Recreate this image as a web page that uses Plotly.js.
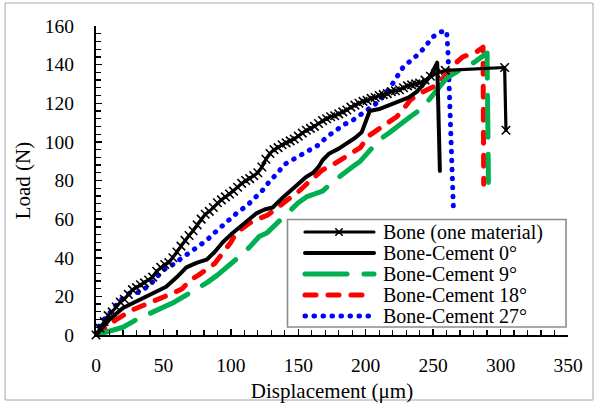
<!DOCTYPE html>
<html><head><meta charset="utf-8">
<script src="https://cdn.plot.ly/plotly-3.0.1.min.js"></script>
<style>
html,body{margin:0;padding:0;background:#fff;}
#chart{width:598px;height:403px;}
.js-line{stroke-linecap:round;stroke-linejoin:round;}
.shapelayer path{stroke-linecap:round;}
</style></head><body><div id="chart"></div>
<script>
// ---- data ----
const seriesNames = ["Bone (one material)", "Bone-Cement 0°", "Bone-Cement 9°", "Bone-Cement 18°", "Bone-Cement 27°"];

const boneX = [0,3,6,9,12,15,18,21,24,27,30,33,36,39,42,45,48,51,54,57,60,63,66,69,72,75,78,81,84,87,90,93,96,99,102,105,108,111,114,117,120,123,126,129,132,135,138,141,144,147,150,153,156,159,162,165,168,171,174,177,180,183,186,189,192,195,198,201,204,207,210,213,216,219,222,225,228,231,234,237,240,244,248,252,259,303,304];
const boneY = [0,3.5,7,10,12,14.5,17,18.5,21,23.5,24.5,26,27,28.5,30,33,35,36.5,37.5,40,43,46,49,51.5,54,57,60,62.5,64,66,68.5,70,71.5,73,74.5,76.5,78.5,80,81,82.5,84,87,91,94,96,97,98.5,99.5,100.5,101.5,103,104.5,106,107,108,109.5,111,112,113,113.5,114.5,115.5,116.5,118,119,120,121,121.5,122.5,123,124,124.5,125,126,126.5,127,128,129,129.5,130,130.5,132,134,135.5,137,138.5,106];

const c0X = [0,5,10,20,30,40,52,60,67,75,82,88,94,100,107,113,119,125,131,139,145,151,156,161,165,168,173,180,186,192,197,200,203,210,218,225,232,238,243,248,253,255];
const c0Y = [0,4,8,14,17.5,20.5,25,30,35,37.5,39,43,48,52,56,60,63,65,66,71.5,75,79,82,84,87,90.5,94,96.5,99,102,105,111,116,117,119,121,123,126,130,134,141,85];

const c9X = [0,10,20,30,40,50,58,67,75,82,90,99,107,114,121,127,134,144,150,156,162,168,175,182,190,196,203,210,218,225,233,242,250,255,260,268,275,280,285,290,291];
const c9Y = [0,2,4,8,11,14.5,17,20.7,24,27,31,36,41,45.6,51,53,58,65,68.5,71.5,73,74.5,79,83,87,90,96,101,105,109,113,117.5,124,129,133,136.5,139,141,143.5,146,79];

const c18X = [0,8,15,27,36,45,57,64,70,76,82,88,94,100,104,110,114,120,127,132,136,142,149,154,159,164,168,174,180,186,192,196,202,208,215,223,228,233,240,245,250,256,262,267,272,277,282,287,287.5];
const c18Y = [0,4,8,13,15.5,18,21.7,24,28.5,31,33.7,37,42.5,48,53,56,58,60,62,64.5,67,70,73.5,77,80,83,85.5,87.5,90,93,95,97,103,106,109,113,117,121.7,125,127,128.5,132,137,141,144,145.5,146.5,149,78];

const c27X = [0,3,8,13,18,25,32,40,45,50,56,62,70,76,82,88,94,100,105,112,119,125,129,135,139,146,151,159,165,171,178,184,190,196,203,210,218,223,228,234,240,245,249,256,260,261,262,263,265];
const c27Y = [0,6,9.5,14,18,21.7,22,26,30,33.7,36,39,42.5,46,49,53,57,61,63.5,67,72,76,80,84,88,90.6,93,96,98.4,102.5,106,109,111,114,118,121,128,133.5,139,142.4,146,150,154,157,157.5,146,128,107,66];

const xTickVals = [0,50,100,150,200,250,300,350];
const yTickVals = [0,20,40,60,80,100,120,140,160];

// ---- styles ----
const FONT = "Liberation Serif, Times New Roman, serif";
const styles = [
  {color:"#000000", width:3.2, dash:"solid", marker:true},
  {color:"#000000", width:4, dash:"solid", marker:false},
  {color:"#00B050", width:5, dash:"42px,17px", marker:false},
  {color:"#FF0000", width:5, dash:"11px,12px", marker:false},
  {color:"#0000FF", width:5, dash:"0.5px,8.5px", marker:false}
];
const xs = [boneX, c0X, c9X, c18X, c27X];
const ys = [boneY, c0Y, c9Y, c18Y, c27Y];

const traces = [];
[4,3,2,1,0].forEach(i => {
  const s = styles[i];
  const t = {
    x: xs[i], y: ys[i], name: seriesNames[i], type: "scatter",
    mode: s.marker ? "lines+markers" : "lines",
    line: {color: s.color, width: s.width, dash: s.dash},
    cliponaxis: false, showlegend: false, hoverinfo: "skip"
  };
  if (s.marker) t.marker = {symbol: "x-thin-open", size: 8.5, color: "#000", line: {color: "#000", width: 1.6}};
  traces.push(t);
});

// plot area geometry (px) for paper-coordinate helpers
const W = 598, H = 403, ML = 96, MR = 30, MT = 26, MB = 68;
const PW = W - ML - MR, PH = H - MT - MB;
const px = v => (v - ML) / PW;
const py = v => (H - MB - v) / PH;

const shapes = [];
const annotations = [];
shapes.push({type:"rect", xref:"paper", yref:"paper", x0:px(5.5), x1:px(593), y0:py(3), y1:py(400), line:{color:"#a6a6a6", width:1}});
shapes.push({type:"rect", xref:"paper", yref:"paper", x0:px(287.5), x1:px(566), y0:py(219.5), y1:py(327), line:{color:"#8c8c8c", width:1.6}, fillcolor:"#ffffff", layer:"above"});
seriesNames.forEach((nm, i) => {
  const s = styles[i];
  const yc = 232 + 21 * i;
  shapes.push({type:"line", xref:"paper", yref:"paper", x0:px(305), x1:px(374), y0:py(yc), y1:py(yc), line:{color:s.color, width:s.width, dash:s.dash}, layer:"above"});
  if (s.marker) {
    const cx = 339, d = 3.2;
    shapes.push({type:"path", xref:"paper", yref:"paper", layer:"above",
      path:`M${px(cx-d)},${py(yc-d)} L${px(cx+d)},${py(yc+d)} M${px(cx-d)},${py(yc+d)} L${px(cx+d)},${py(yc-d)}`,
      line:{color:"#000", width:1.6}});
  }
  annotations.push({xref:"paper", yref:"paper", x:px(381), y:py(yc), xanchor:"left", yanchor:"middle", text:nm, showarrow:false, font:{family:FONT, size:20, color:"#000"}});
});

const layout = {
  width: W, height: H,
  margin: {l: ML, r: MR, t: MT, b: MB, pad: 0},
  paper_bgcolor: "#ffffff", plot_bgcolor: "#ffffff",
  font: {family: FONT, color: "#000"},
  showlegend: false,
  xaxis: {
    range: [0, 350], tickvals: xTickVals, ticktext: xTickVals.map(String),
    ticks: "inside", ticklen: 6, tickwidth: 1.5, tickcolor: "#000",
    minor: {dtick: 10, ticks: "inside", ticklen: 5, tickwidth: 1.3, tickcolor: "#000", showgrid:false},
    showline: true, linewidth: 2, linecolor: "#000",
    showgrid: false, zeroline: false,
    tickfont: {family: FONT, size: 19.5, color: "#000"},
    ticklabelstandoff: 12,
    title: {text: "Displacement (μm)", font: {family: FONT, size: 21, color: "#000"}, standoff: 8},
    automargin: false
  },
  yaxis: {
    range: [0, 160], tickvals: yTickVals, ticktext: yTickVals.map(String),
    ticks: "inside", ticklen: 6, tickwidth: 1.5, tickcolor: "#000",
    minor: {dtick: 4, ticks: "inside", ticklen: 5, tickwidth: 1.3, tickcolor: "#000", showgrid:false},
    showline: true, linewidth: 2, linecolor: "#000",
    showgrid: false, zeroline: false,
    tickfont: {family: FONT, size: 19.5, color: "#000"},
    ticklabelstandoff: 16,
    title: {text: "Load (N)", font: {family: FONT, size: 21, color: "#000"}, standoff: 8},
    automargin: false
  },
  shapes: shapes,
  annotations: annotations
};

Plotly.newPlot("chart", traces, layout, {displayModeBar: false, staticPlot: true});
</script></body></html>
